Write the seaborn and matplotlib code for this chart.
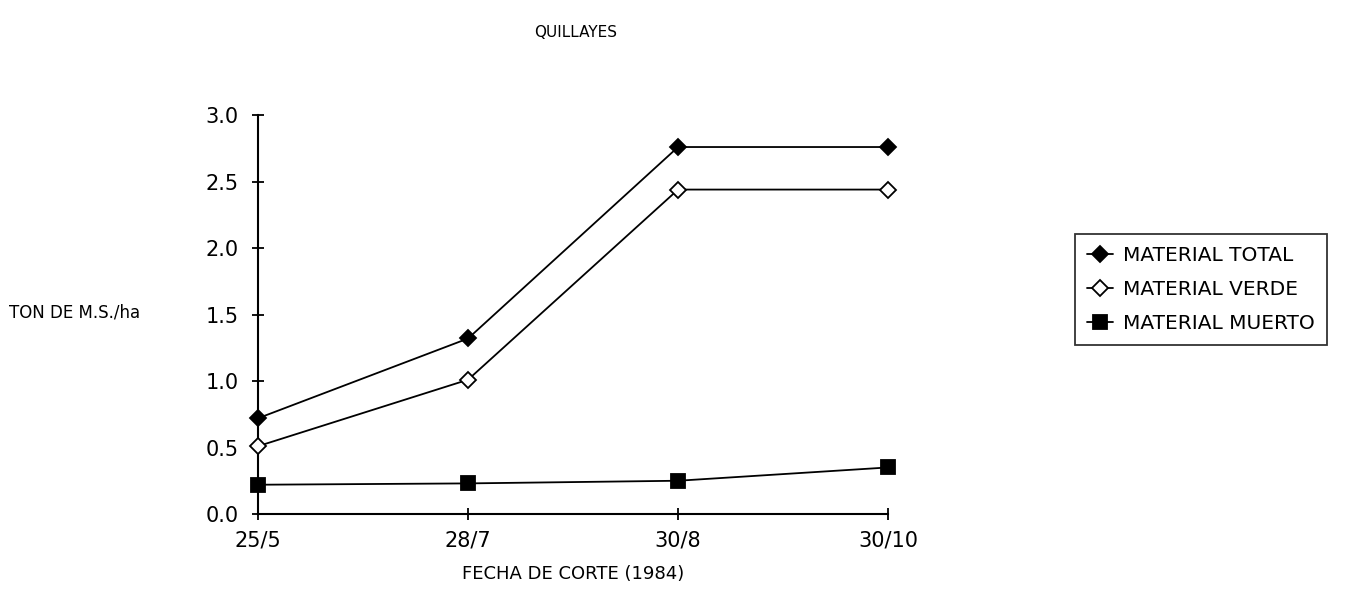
import pandas as pd
import matplotlib.pyplot as plt
import seaborn as sns

# --- Data ---
fechas = ["25/5", "28/7", "30/8", "30/10"]
material_total = [0.72, 1.32, 2.76, 2.76]
material_verde = [0.51, 1.01, 2.44, 2.44]
material_muerto = [0.22, 0.23, 0.25, 0.35]

series = {
    "MATERIAL TOTAL": material_total,
    "MATERIAL VERDE": material_verde,
    "MATERIAL MUERTO": material_muerto,
}
df = pd.concat(
    [pd.DataFrame({"fecha": fechas, "valor": v, "serie": k}) for k, v in series.items()],
    ignore_index=True,
)
df["pos"] = df["fecha"].map({f: i for i, f in enumerate(fechas)})

# --- Plot ---
sns.set_style("ticks")
plt.rcParams["font.family"] = ["DejaVu Sans"]
plt.rcParams["text.color"] = "black"
plt.rcParams["axes.labelcolor"] = "black"

fig = plt.figure(figsize=(13.49, 5.98), dpi=100)
ax = fig.add_axes([0.1913, 0.1405, 0.467, 0.667])

marker_style = {
    "MATERIAL TOTAL": dict(marker="D", mfc="black", ms=8.5),
    "MATERIAL VERDE": dict(marker="D", mfc="white", ms=8.5),
    "MATERIAL MUERTO": dict(marker="s", mfc="black", ms=9.5),
}
for name in series:
    sub = df[df["serie"] == name]
    sns.lineplot(data=sub, x="pos", y="valor", ax=ax, color="black", linewidth=1.3,
                 label=name, mec="black", mew=1.3, clip_on=False, zorder=5,
                 **marker_style[name])

ax.set_xlim(0, 3)
ax.set_ylim(0, 3)
ax.set_xticks(range(len(fechas)))
ax.set_xticklabels(fechas)
ax.set_yticks([0, 0.5, 1.0, 1.5, 2.0, 2.5, 3.0])
ax.set_yticklabels(["0.0", "0.5", "1.0", "1.5", "2.0", "2.5", "3.0"])
ax.tick_params(axis="both", labelsize=15, direction="inout", length=8, width=1.3,
               colors="black")
ax.tick_params(axis="x", pad=8)
ax.tick_params(axis="y", pad=10)
for s in ["top", "right"]:
    ax.spines[s].set_visible(False)
for s in ["left", "bottom"]:
    ax.spines[s].set_linewidth(1.5)
    ax.spines[s].set_color("black")

ax.set_ylabel("TON DE M.S./ha", rotation=0, fontsize=12, ha="right", va="center")
ax.yaxis.set_label_coords(-0.187, 0.504)
ax.set_xlabel("FECHA DE CORTE (1984)", fontsize=13, labelpad=10)

fig.text(0.427, 0.945, "QUILLAYES", fontsize=11, ha="center", va="center")

leg = ax.legend(loc="center left", bbox_to_anchor=(1.28, 0.563), frameon=True, fancybox=False,
                fontsize=14.5, handlelength=1.3, handletextpad=0.5, labelspacing=0.75,
                borderpad=0.6, edgecolor="black")
leg.get_frame().set_linewidth(1.3)

fig.savefig("out.png", dpi=100, facecolor="white")
